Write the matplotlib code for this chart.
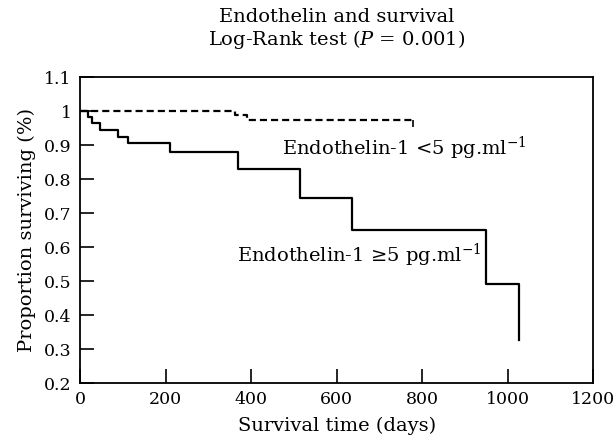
import matplotlib
matplotlib.use('Agg')
import matplotlib.pyplot as plt
from matplotlib.ticker import FuncFormatter

# Kaplan-Meier steps
high_days = [0, 19, 27, 46, 88, 113, 210, 370, 515, 637, 949, 1027]
high_surv = [1.0, 0.982, 0.964, 0.943, 0.924, 0.906, 0.881, 0.831,
             0.743, 0.65, 0.491, 0.327]

low_days = [0, 363, 390, 778]
low_surv = [1.0, 0.987, 0.974, 0.974]

x_ticks = [0, 200, 400, 600, 800, 1000, 1200]
y_ticks = [0.2, 0.3, 0.4, 0.5, 0.6, 0.7, 0.8, 0.9, 1.0, 1.1]

low_label = r'Endothelin-1 <5 pg.ml$^{-1}$'
high_label = r'Endothelin-1 ≥5 pg.ml$^{-1}$'


def main():
    plt.rcParams['font.family'] = 'DejaVu Serif'
    plt.rcParams['mathtext.fontset'] = 'dejavuserif'

    fig = plt.figure(figsize=(6.16, 4.43), dpi=100)
    ax = fig.add_axes([0.13, 0.1354, 0.833, 0.6906])

    ax.step(high_days, high_surv, where='post', color='black', lw=1.6)
    ax.step(low_days, low_surv, where='post', color='black', lw=1.6,
            linestyle=(0, (3.2, 1.8)))
    ax.plot(low_days[-1], low_surv[-1], marker=3, color='black',
            markersize=5, mew=1.2)

    ax.text(472, 0.891, low_label, fontsize=14, va='center', ha='left')
    ax.text(367, 0.576, high_label, fontsize=14, va='center', ha='left')

    ax.set_xlim(0, 1200)
    ax.set_ylim(0.2, 1.1)
    ax.set_xticks(x_ticks)
    ax.set_yticks(y_ticks)
    ax.yaxis.set_major_formatter(FuncFormatter(lambda v, _: f'{v:g}'))
    ax.tick_params(direction='in', length=10, width=1.2, labelsize=12.5,
                   top=False, right=False, pad=6)
    for sp in ax.spines.values():
        sp.set_linewidth(1.3)

    ax.set_xlabel('Survival time (days)', fontsize=14, labelpad=6)
    ax.set_ylabel('Proportion surviving (%)', fontsize=14, labelpad=6)

    fig.text(0.546, 0.962, 'Endothelin and survival', fontsize=14,
             ha='center', va='center')
    fig.text(0.546, 0.910, r'Log-Rank test ($P$ = 0.001)', fontsize=14,
             ha='center', va='center')

    fig.savefig('out.png', dpi=100)


if __name__ == "__main__":
    main()
